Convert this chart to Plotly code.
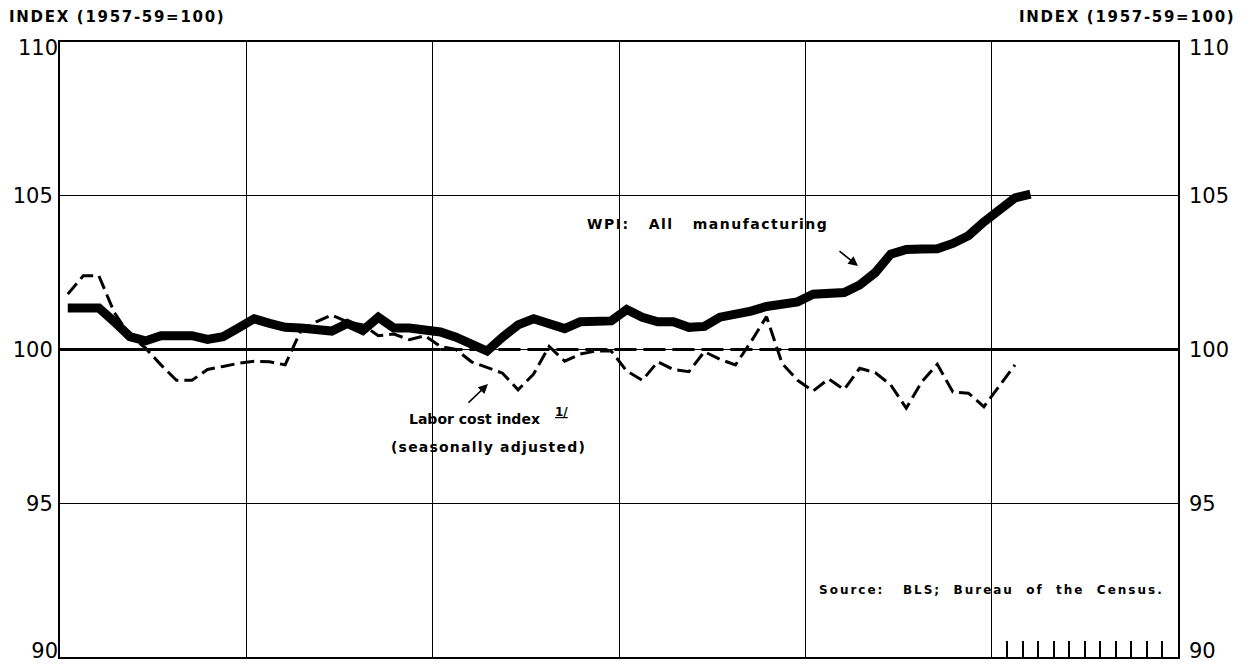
import plotly.graph_objects as go

# ---- data (monthly, 6 years shown; index 1957-59=100) ----
wpi_months = list(range(63))
wpi_values = [101.35, 101.35, 101.35, 100.9, 100.42, 100.28, 100.45, 100.45, 100.45, 100.33,
              100.42, 100.7, 101.0, 100.85, 100.72, 100.7, 100.68, 100.6, 100.85, 100.62,
              101.05, 100.7, 100.7, 100.62, 100.57, 100.4, 100.2, 99.95, 100.4, 100.8,
              101.0, 100.82, 100.68, 100.9, 100.92, 100.93, 101.3, 101.05, 100.9, 100.9,
              100.72, 100.75, 101.05, 101.12, 101.25, 101.4, 101.45, 101.55, 101.8, 101.83,
              101.85, 102.1, 102.5, 103.1, 103.25, 103.27, 103.28, 103.45, 103.7, 104.15,
              104.5, 104.93, 105.05]

labor_months = list(range(62))
labor_values = [101.8, 102.4, 102.4, 101.2, 100.45, 100.05, 99.5, 99.0, 99.0, 99.35,
                99.45, 99.55, 99.62, 99.6, 99.5, 100.6, 100.9, 101.12, 100.9, 100.8,
                100.45, 100.5, 100.32, 100.45, 100.1, 100.0, 99.6, 99.42, 99.23, 98.69,
                99.2, 100.1, 99.62, 99.85, 99.95, 99.95, 99.3, 99.0, 99.6, 99.35,
                99.28, 99.93, 99.68, 99.5, 100.25, 101.07, 99.55, 99.0, 98.65, 99.04,
                98.7, 99.39, 99.25, 98.85, 98.09, 98.95, 99.52, 98.62, 98.58, 98.14,
                98.8, 99.5]

year_bounds = [0, 12, 24, 36, 48, 60, 72]
month_ticks = [61, 62, 63, 64, 65, 66, 67, 68, 69, 70, 71]
y_range = [90, 110]
y_ticks_mid = [95, 100, 105]
y_tick_top = [110]
y_tick_bottom = [90]

ref_level = 100
ref_dash_start = 24.5
ref_dash_end = 48

wpi_x = [m + 0.5 for m in wpi_months]
labor_x = [m + 0.5 for m in labor_months]

fig = go.Figure()

fig.add_trace(go.Scatter(x=labor_x, y=labor_values, mode="lines",
                         line=dict(color="black", width=3, dash="14px,6px"),
                         hoverinfo="skip", showlegend=False))
fig.add_trace(go.Scatter(x=wpi_x, y=wpi_values, mode="lines",
                         line=dict(color="black", width=9),
                         hoverinfo="skip", showlegend=False))
# invisible traces to carry the secondary axes (labels and monthly ticks)
for xa, ya in [("x2", "y2"), ("x", "y3"), ("x", "y4"), ("x", "y5"), ("x", "y6")]:
    fig.add_trace(go.Scatter(x=labor_x, y=labor_values, mode="markers", xaxis=xa, yaxis=ya,
                             marker=dict(opacity=0), hoverinfo="skip", showlegend=False))

# reference line at 100
fig.add_shape(type="line", xref="x", yref="y", x0=0, x1=ref_dash_start, y0=ref_level, y1=ref_level,
              line=dict(color="black", width=3), layer="below")
fig.add_shape(type="line", xref="x", yref="y", x0=ref_dash_start, x1=ref_dash_end, y0=ref_level, y1=ref_level,
              line=dict(color="black", width=3, dash="22px,7px"), layer="below")
fig.add_shape(type="line", xref="x", yref="y", x0=ref_dash_end, x1=72, y0=ref_level, y1=ref_level,
              line=dict(color="black", width=3), layer="below")

# page has an 8px body margin; work in page pixel coordinates
OFF = 8
W, H = 1237, 656
L, R, T, B = 60 - OFF, 1178 - OFF, 42 - OFF, 657 - OFF


def px(xp):
    return (xp - OFF - L) / (R - L)


def py(yp):
    return (B - (yp - OFF)) / (B - T)


def spaced(s, sp):
    return '<span style="letter-spacing:%spx">%s</span>' % (sp, s)


lab_font = dict(family="DejaVu Sans", size=14, color="black", weight="bold")
head_font = dict(family="DejaVu Sans", size=15, color="black", weight="bold")

annotations = [
    dict(text=spaced("INDEX (1957-59=100)", 1.7), xref="paper", yref="paper", x=px(7), y=py(17),
         xanchor="left", yanchor="middle", showarrow=False, font=head_font),
    dict(text=spaced("INDEX (1957-59=100)", 1.7), xref="paper", yref="paper", x=px(1237), y=py(17),
         xanchor="right", yanchor="middle", showarrow=False, font=head_font),
    dict(text=spaced("WPI:&nbsp;&nbsp; All&nbsp;&nbsp; manufacturing", 1.5), xref="paper", yref="paper",
         x=px(585), y=py(224), xanchor="left", yanchor="middle", showarrow=False, font=lab_font),
    dict(text="", xref="paper", yref="paper", x=px(858), y=py(266), ax=-20, ay=-16,
         showarrow=True, arrowhead=2, arrowsize=1.2, arrowwidth=1.6, arrowcolor="black"),
    dict(text="Labor cost index", xref="paper", yref="paper", x=px(407), y=py(419),
         xanchor="left", yanchor="middle", showarrow=False, font=lab_font),
    dict(text="<u>1/</u>", xref="paper", yref="paper", x=px(553), y=py(412),
         xanchor="left", yanchor="middle", showarrow=False,
         font=dict(family="DejaVu Sans", size=12, color="black", weight="bold")),
    dict(text=spaced("(seasonally adjusted)", 1.2), xref="paper", yref="paper", x=px(389), y=py(447),
         xanchor="left", yanchor="middle", showarrow=False, font=lab_font),
    dict(text="", xref="paper", yref="paper", x=px(488), y=py(384), ax=-21, ay=20,
         showarrow=True, arrowhead=2, arrowsize=1.2, arrowwidth=1.6, arrowcolor="black"),
    dict(text=spaced("Source:&nbsp;&nbsp; BLS;&nbsp; Bureau&nbsp; of&nbsp; the&nbsp; Census.", 2.0),
         xref="paper", yref="paper", x=px(1166), y=py(590),
         xanchor="right", yanchor="middle", showarrow=False,
         font=dict(family="DejaVu Sans", size=12, color="black", weight="bold")),
]

tick_font = dict(family="DejaVu Sans", size=21, color="black")


def label_axis(vals, side, shift, standoff):
    return dict(range=y_range, overlaying="y", anchor="x", side=side, automargin=False,
                tickvals=vals, ticktext=[str(v) for v in vals], ticks="", showgrid=False,
                zeroline=False, showline=False, tickfont=tick_font, ticklabelstandoff=standoff,
                ticklabelshift=shift, ticklabeloverflow="allow")


fig.update_layout(
    width=W, height=H,
    margin=dict(l=L, r=W - R, t=T, b=H - B, pad=0, autoexpand=False),
    paper_bgcolor="white", plot_bgcolor="white",
    showlegend=False,
    annotations=annotations,
    xaxis=dict(range=[0, 72], tickvals=year_bounds, showticklabels=False, ticks="",
               showgrid=True, gridcolor="black", gridwidth=1, zeroline=False, automargin=False,
               showline=True, linecolor="black", linewidth=2, mirror=True),
    yaxis=dict(range=y_range, tickvals=y_ticks_mid, ticktext=[str(v) for v in y_ticks_mid], ticks="",
               showgrid=True, gridcolor="black", gridwidth=1, zeroline=False, automargin=False,
               showline=True, linecolor="black", linewidth=2, mirror=True,
               tickfont=tick_font, ticklabelstandoff=1, ticklabeloverflow="allow"),
    xaxis2=dict(range=[0, 72], overlaying="x", anchor="y2", side="bottom", automargin=False,
                tickvals=month_ticks, ticks="inside", ticklen=16, tickwidth=1.5, tickcolor="black",
                showticklabels=False, showgrid=False, zeroline=False, showline=False),
    yaxis2=label_axis(y_ticks_mid, "right", 0, 10),
    yaxis3=label_axis(y_tick_top, "left", 6, 1),
    yaxis4=label_axis(y_tick_bottom, "left", -6, 1),
    yaxis5=label_axis(y_tick_top, "right", 6, 10),
    yaxis6=label_axis(y_tick_bottom, "right", -6, 10),
)

fig.write_html("out.html")
